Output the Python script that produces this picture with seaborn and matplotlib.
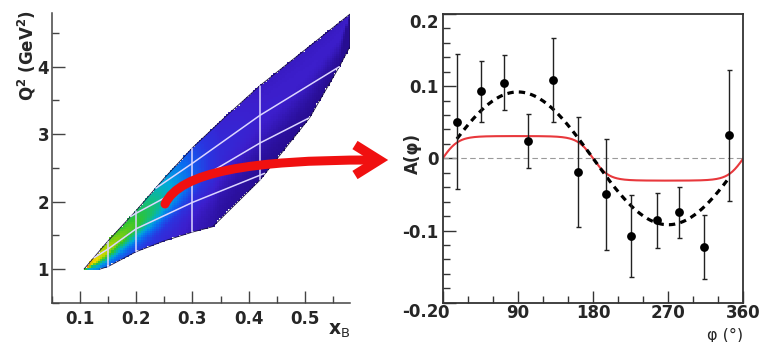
import numpy as np
import matplotlib
matplotlib.use("Agg")
import matplotlib.pyplot as plt
import seaborn as sns
from matplotlib.path import Path
from matplotlib.patches import PathPatch
from matplotlib.lines import Line2D
from matplotlib.colors import LinearSegmentedColormap
from matplotlib.ticker import MultipleLocator

sns.set_theme(style="ticks")
plt.rcParams["font.family"] = ["DejaVu Sans"]

# ---------------- kinematic coverage (left panel) ----------------
# boundary of the accepted (x_B, Q^2) region
upper_x = [0.107, 0.15, 0.20, 0.25, 0.30, 0.36, 0.42, 0.50, 0.58]
upper_q2 = [1.00, 1.42, 1.87, 2.35, 2.80, 3.27, 3.72, 4.25, 4.78]
lower_x = [0.58, 0.58, 0.561, 0.508, 0.42, 0.336, 0.30, 0.25, 0.20, 0.15, 0.135]
lower_q2 = [4.78, 4.30, 4.00, 3.24, 2.32, 1.63, 1.55, 1.42, 1.26, 1.04, 1.00]

# event-density level along x_B (colour scale 0..1) and across the band
dens_x = [0.107, 0.12, 0.14, 0.17, 0.20, 0.23, 0.26, 0.30, 0.35, 0.42, 0.58]
dens_level = [0.95, 0.86, 0.72, 0.63, 0.57, 0.49, 0.40, 0.29, 0.19, 0.155, 0.145]
ridge_pos = 0.66
ridge_width_low = 0.36
ridge_width_high = 0.70
edge_floor = 0.42

# analysis bin boundaries
vline_x = [0.15, 0.20, 0.30, 0.42]
vline_lo = [1.04, 1.26, 1.55, 2.32]
vline_hi = [1.41, 1.87, 2.80, 3.72]
diag_x = [[0.125, 0.15, 0.20, 0.30, 0.428],
          [0.19, 0.20, 0.30, 0.42, 0.507],
          [0.235, 0.30, 0.42, 0.561]]
diag_q2 = [[1.17, 1.30, 1.60, 1.99, 2.42],
           [1.78, 1.83, 2.28, 2.87, 3.24],
           [2.20, 2.57, 3.28, 4.00]]

# ---------------- beam-spin asymmetry (right panel) ----------------
phi = [17.0, 46.0, 73.0, 102.5, 131.7, 161.7, 195.2, 225.1, 257.0, 283.0, 312.9, 343.2]
asym = [0.051, 0.093, 0.105, 0.024, 0.109, -0.019, -0.050, -0.108, -0.086, -0.075, -0.123, 0.032]
asym_err = [0.093, 0.042, 0.038, 0.038, 0.058, 0.076, 0.077, 0.057, 0.038, 0.035, 0.044, 0.091]
fit_amp = 0.092          # A = a sin(phi)
model_amp = 0.031        # saturated model curve
model_k = 3.0

W, H = 760, 342
fig = plt.figure(figsize=(W / 100, H / 100), dpi=100)
fig.patch.set_facecolor("white")

# ======================= left panel =======================
ax1 = fig.add_axes([51.8 / W, 1 - 303 / H, (350 - 51.8) / W, (303 - 12.7) / H])

poly = np.column_stack([upper_x + lower_x, upper_q2 + lower_q2])
region = Path(poly)

xe = np.arange(0.100, 0.5841, 0.004)
ye = np.arange(0.96, 4.8001, 0.032)
cx, cy = np.meshgrid((xe[:-1] + xe[1:]) / 2, (ye[:-1] + ye[1:]) / 2, indexing="ij")
inside = region.contains_points(np.column_stack([cx.ravel(), cy.ravel()])).reshape(cx.shape)

lo_sorted = np.argsort(lower_x)
lo_edge = np.interp(cx, np.array(lower_x)[lo_sorted], np.array(lower_q2)[lo_sorted])
lo_edge = np.maximum(lo_edge, 1.0)
hi_edge = np.interp(cx, upper_x, upper_q2)
t = np.clip((cy - lo_edge) / np.maximum(hi_edge - lo_edge, 1e-3), 0, 1)
level = np.interp(cx, dens_x, dens_level)
width = np.where(t < ridge_pos, ridge_width_low, ridge_width_high)
weights = level * (edge_floor + (1 - edge_floor) * np.exp(-((t - ridge_pos) / width) ** 2))
weights = np.where(inside, weights, 0.0)

cmap = LinearSegmentedColormap.from_list(
    "root_rainbow",
    [(0.00, "#140548"), (0.06, "#260c90"), (0.15, "#3c1ecc"), (0.23, "#2a34e0"),
     (0.31, "#0a6cf0"), (0.39, "#00a8dc"), (0.47, "#10bc88"), (0.56, "#30c430"),
     (0.67, "#a8d400"), (0.79, "#f0dc00"), (0.90, "#f09000"), (1.00, "#e02000")])

sns.histplot(x=cx.ravel(), y=cy.ravel(), weights=weights.ravel(), bins=[xe, ye],
             cmap=cmap, vmin=0, vmax=1, ax=ax1)
ax1.add_patch(PathPatch(region, facecolor="none", edgecolor="#1a1040", lw=0.6, zorder=3))

line_col = "#dcd6ff"
for xv, lo, hi in zip(vline_x, vline_lo, vline_hi):
    ax1.plot([xv, xv], [lo, hi], color=line_col, lw=1.1, zorder=4)
for dx, dq in zip(diag_x, diag_q2):
    ax1.plot(dx, dq, color=line_col, lw=1.1, zorder=4)

ax1.set_xlim(0.05, 0.58)
ax1.set_ylim(0.5, 4.8)
ax1.set_xlabel("")
ax1.set_ylabel("")
for side in ("top", "right"):
    ax1.spines[side].set_visible(False)
for side in ("left", "bottom"):
    ax1.spines[side].set_color("#444444")
    ax1.spines[side].set_linewidth(1.1)
ax1.set_xticks([0.1, 0.2, 0.3, 0.4, 0.5])
ax1.set_xticklabels(["0.1", "0.2", "0.3", "0.4", "0.5"])
ax1.xaxis.set_minor_locator(MultipleLocator(0.05))
ax1.set_yticks([1, 2, 3, 4])
ax1.set_yticklabels(["1", "2", "3", "4"])
ax1.yaxis.set_minor_locator(MultipleLocator(0.5))
ax1.tick_params(which="major", direction="in", length=9, width=1.0, color="#444444")
ax1.tick_params(which="minor", direction="in", length=5, width=1.0, color="#444444")
ax1.tick_params(axis="x", which="both", pad=5)
ax1.tick_params(axis="y", which="both", pad=2)
for lab in ax1.get_xticklabels() + ax1.get_yticklabels():
    lab.set_fontsize(12)
    lab.set_fontweight("bold")

fig.text(27 / W, 1 - 10 / H, "Q$^{\\mathbf{2}}$ (GeV$^{\\mathbf{2}}$)", rotation=90,
         ha="center", va="top", fontsize=12, fontweight="bold")
fig.text(350 / W, 1 - 331 / H, r"$\mathbf{x}_{\mathrm{B}}$", ha="right", va="center",
         fontsize=13.5)

# ======================= right panel =======================
ax2 = fig.add_axes([442.7 / W, 1 - 302.7 / H, (743.3 - 442.7) / W, (302.7 - 14) / H])

ax2.axhline(0, color="#9a9a9a", lw=0.8, ls=(0, (5, 3)), zorder=1)

model_phi = np.linspace(0, 360, 361)
model_val = model_amp * np.tanh(model_k * np.sin(np.radians(model_phi)))
sns.lineplot(x=model_phi, y=model_val, color="#e8383c", lw=1.5, ax=ax2, zorder=2)

fit_phi = np.linspace(phi[0], phi[-1], 300)
fit_val = fit_amp * np.sin(np.radians(fit_phi))
sns.lineplot(x=fit_phi, y=fit_val, color="black", lw=2.3, ls=(0, (2.0, 1.6)), ax=ax2, zorder=3)

ax2.errorbar(phi, asym, yerr=asym_err, fmt="none", ecolor="#222222", elinewidth=1.0,
             capsize=1.8, capthick=1.0, zorder=4)
sns.scatterplot(x=phi, y=asym, color="black", s=40, edgecolor="black", linewidth=0,
                ax=ax2, zorder=5)

ax2.set_xlim(0, 360)
ax2.set_ylim(-0.2, 0.2)
ax2.set_xlabel("")
ax2.set_ylabel("")
for side in ax2.spines.values():
    side.set_color("#333333")
    side.set_linewidth(1.3)
ax2.set_xticks([0, 90, 180, 270, 360])
ax2.set_xticklabels(["0", "90", "180", "270", "360"])
ax2.xaxis.set_minor_locator(MultipleLocator(30))
ax2.set_yticks([-0.2, -0.1, 0, 0.1, 0.2])
ax2.set_yticklabels(["-0.2", "-0.1", "0", "0.1", "0.2"])
ax2.yaxis.set_minor_locator(MultipleLocator(0.02))
ax2.tick_params(which="major", direction="in", length=9, width=1.0, color="#333333")
ax2.tick_params(which="minor", direction="in", length=5, width=1.0, color="#333333")
ax2.tick_params(axis="x", which="both", pad=1)
ax2.tick_params(axis="y", which="both", pad=3)
for lab in ax2.get_xticklabels() + ax2.get_yticklabels():
    lab.set_fontsize(12)
    lab.set_fontweight("bold")
ylabs = ax2.get_yticklabels()
ylabs[0].set_va("top")
ylabs[-1].set_va("top")

fig.text(413 / W, 1 - 153 / H, "A(φ)", rotation=90, ha="center", va="center",
         fontsize=12, fontweight="bold")
fig.text(743 / W, 1 - 335 / H, "φ (°)", ha="right", va="center", fontsize=11.5)

# ======================= connecting arrow =======================
def fpt(px, py):
    return (px / W, 1 - py / H)

arrow_path = Path([fpt(165, 204), fpt(180, 172), fpt(250, 160), fpt(372, 160)],
                  [Path.MOVETO, Path.CURVE4, Path.CURVE4, Path.CURVE4])
fig.add_artist(PathPatch(arrow_path, transform=fig.transFigure, facecolor="none",
                         edgecolor="#f01010", lw=6.5, capstyle="round", zorder=10))
hx, hy = zip(fpt(355, 145), fpt(379, 160), fpt(355, 175))
fig.add_artist(Line2D(hx, hy, transform=fig.transFigure, color="#f01010", lw=7,
                      solid_joinstyle="miter", solid_capstyle="butt", zorder=10))

fig.savefig("out.png", dpi=100, facecolor="white")
